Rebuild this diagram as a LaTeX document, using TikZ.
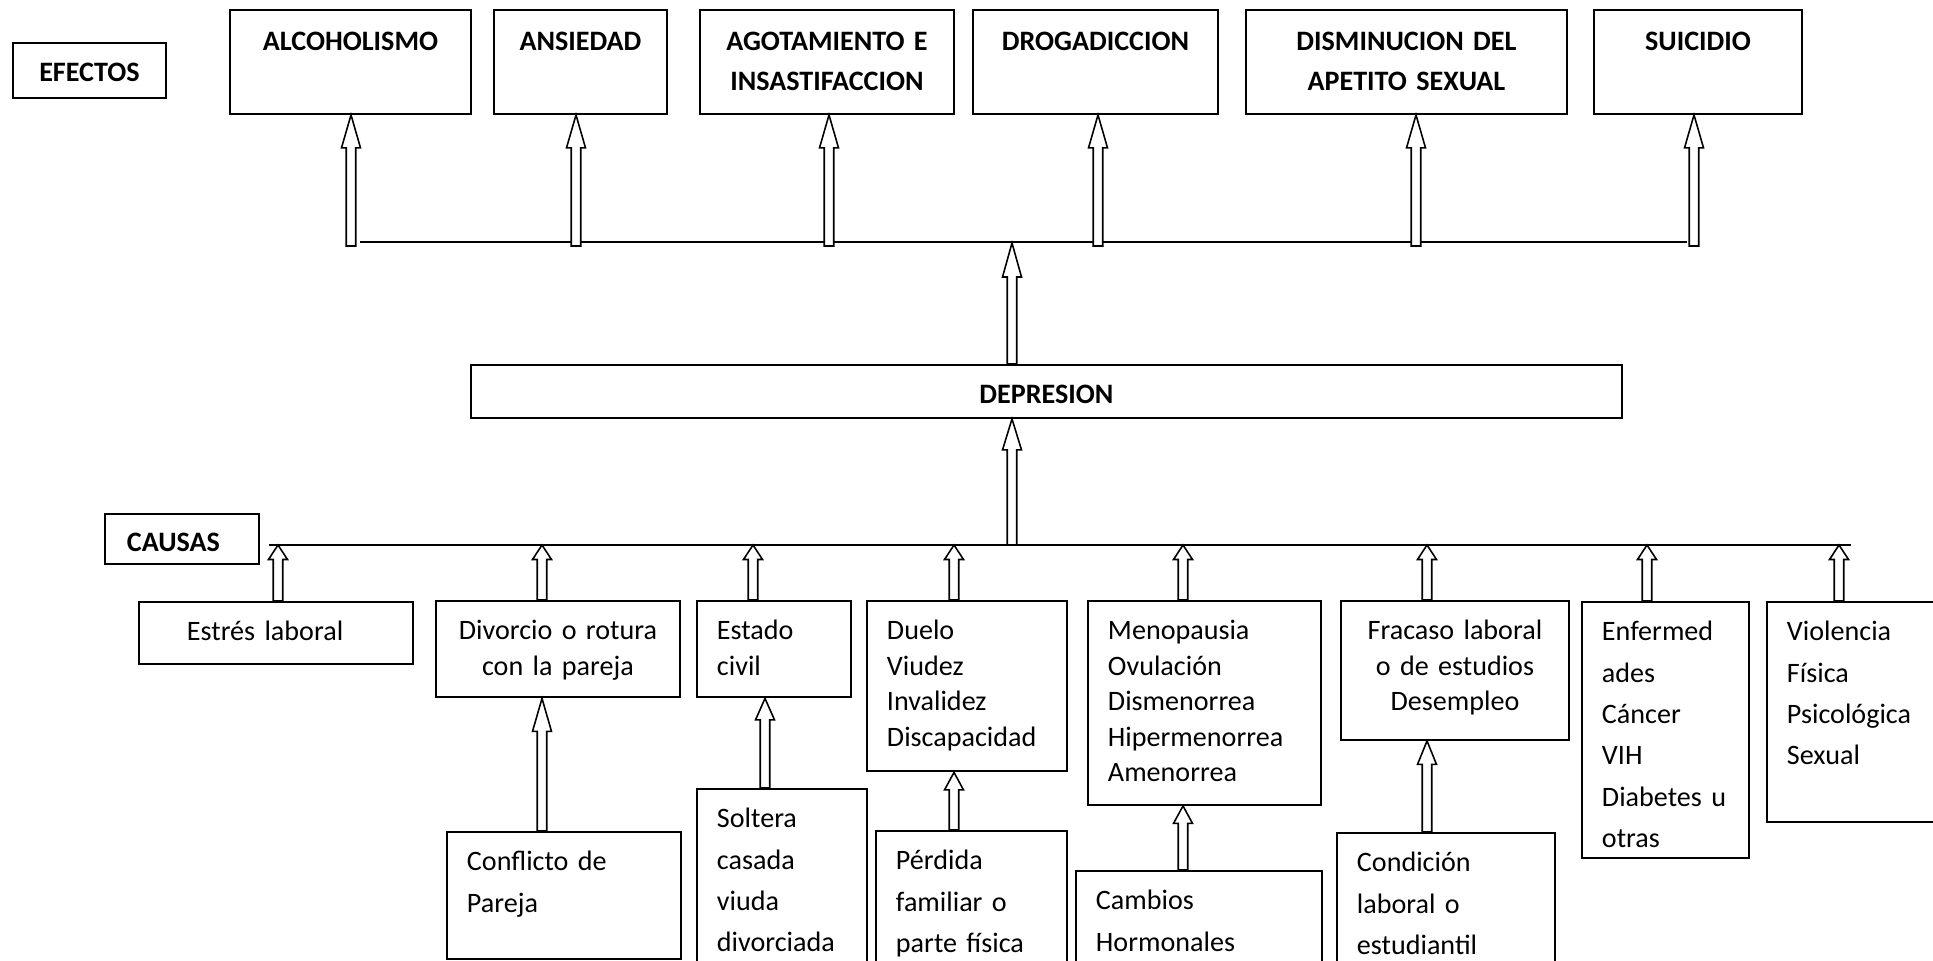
\documentclass[tikz,border=0pt]{standalone}
\usepackage{fontspec}
\setmainfont{Carlito}
\usepackage{tikz}
\usetikzlibrary{calc,positioning}
\hyphenpenalty=10000
\exhyphenpenalty=10000

\begin{document}
\begin{tikzpicture}[
    x=0.02cm,
    y=-0.02cm,
    font=\fontsize{16}{23.5}\selectfont,
    caja/.style={
		rectangle,
		draw=black,
		line width=1.1pt,
		anchor=north west,
		inner xsep=0.4cm,
		inner ysep=0pt,
		text height=0.78cm,
		align=left,
		fill=white
	},
	centrada/.style={
		caja,
		inner xsep=0.1cm,
		align=center
	},
	titulo/.style={
		centrada,
		font=\bfseries\fontsize{16}{22.7}\selectfont
	},
	junta/.style={
		font=\fontsize{16}{20.2}\selectfont
	},
	linea/.style={
		line width=1.1pt
	},
	flecha/.style={
		draw=black,
		fill=white,
		line width=0.9pt,
		to path={let \p1=(\tikztostart), \p2=(\tikztotarget) in
		  (\x1-0.095cm,\y1) -- (\x1-0.095cm,\y2-#1) -- (\x1-0.19cm,\y2-#1) -- (\x1,\y2)
		  -- (\x1+0.19cm,\y2-#1) -- (\x1+0.095cm,\y2-#1) -- (\x1+0.095cm,\y1) -- cycle}
	},
	flecha/.default=0.66cm
  ]

\useasboundingbox [fill=white] (0,0) rectangle (1933,960);

% // Efectos
 \node [titulo, text width=2.86cm, text depth=0.32cm] (efectos) at (12,42) {EFECTOS};
 \node [titulo, text width=4.62cm, text height=0.82cm, text depth=1.26cm] (alcoholismo) at (229,9) {ALCOHOLISMO};
 \node [titulo, text width=3.26cm, text height=0.82cm, text depth=1.26cm] (ansiedad) at (493,9) {ANSIEDAD};
 \node [titulo, text width=4.88cm, text height=0.82cm, text depth=1.26cm] (agotamiento) at (699,9)
 {AGOTAMIENTO E\\INSASTIFACCION};
 \node [titulo, text width=4.7cm, text height=0.82cm, text depth=1.26cm] (drogadiccion) at (972,9) {DROGADICCION};
 \node [titulo, text width=6.22cm, text height=0.82cm, text depth=1.26cm] (disminucion) at (1245,9)
 {DISMINUCION DEL\\APETITO SEXUAL};
 \node [titulo, text width=3.96cm, text height=0.82cm, text depth=1.26cm] (suicidio) at (1593,9) {SUICIDIO};

% // Depresion
 \node [titulo, text width=22.82cm, text depth=0.28cm] (depresion) at (470,364) {DEPRESION};

% // Causas
 \node [titulo, align=left, inner xsep=0.44cm, text width=2.2cm, text height=0.76cm, text depth=0.24cm] (causas) at (104,513) {CAUSAS};
 \node [caja, inner xsep=0.96cm, text width=3.57cm, text depth=0.46cm] (estres) at (138,601) {Estrés laboral};
 \node [centrada, junta, text width=4.68cm, text depth=1.15cm] (divorcio) at (435,600)
 {Divorcio o rotura\\con la pareja};
 \node [caja, junta, text width=2.29cm, text depth=1.15cm] (estado) at (696,600) {Estado\\civil};
 \node [caja, junta, text width=3.2cm, text depth=2.63cm] (duelo) at (866,600)
 {Duelo\\Viudez\\Invalidez\\Discapacidad};
 \node [caja, junta, text width=3.87cm, text depth=3.3cm] (menopausia) at (1087,600)
 {Menopausia\\Ovulación\\Dismenorrea\\Hipermenorrea\\Amenorrea};
 \node [centrada, junta, text width=4.36cm, text depth=2.0cm] (fracaso) at (1340,600)
 {Fracaso laboral\\o de estudios\\Desempleo};
 \node [caja, text width=2.55cm, text depth=4.34cm] (enfermedades) at (1581,601)
 {Enfermed\\ades\\Cáncer\\VIH\\Diabetes~u\\otras};
 \node [caja, text width=3.08cm, text depth=3.62cm] (violencia) at (1766,601)
 {Violencia\\Física\\Psicológica\\Sexual};

% // Subcausas
 \node [caja, text width=3.88cm, text depth=1.77cm] (conflicto) at (446,831) {Conflicto de\\Pareja};
 \node [caja, text width=2.61cm, text depth=3.05cm] (soltera) at (696,788)
 {Soltera\\casada\\viuda\\divorciada};
 \node [caja, text width=3.03cm, text depth=2.22cm] (perdida) at (875,830)
 {Pérdida\\familiar o\\parte física};
 \node [caja, text width=4.12cm, text depth=1.42cm] (cambios) at (1075,870) {Cambios\\Hormonales};
 \node [caja, text width=3.56cm, text depth=2.18cm] (condicion) at (1336,832)
 {Condición\\laboral o\\estudiantil};

% // Lineas
 \coordinate (efizq) at (360,242);
 \coordinate (efder) at (1687,242);
 \coordinate (caizq) at (269,545);
 \coordinate (cader) at (1851,545);
 \draw [linea] (efizq) -- (efder);
 \draw [linea] (caizq) -- (cader);

% // Flechas de efectos
 \coordinate (ef1) at (351,246);
 \coordinate (ef2) at (576,246);
 \coordinate (ef3) at (829,246);
 \coordinate (ef4) at (1098,246);
 \coordinate (ef5) at (1416,246);
 \coordinate (ef6) at (1694,246);
 \draw [flecha] (ef1) to (ef1 |- alcoholismo.south);
 \draw [flecha] (ef2) to (ef2 |- ansiedad.south);
 \draw [flecha] (ef3) to (ef3 |- agotamiento.south);
 \draw [flecha] (ef4) to (ef4 |- drogadiccion.south);
 \draw [flecha] (ef5) to (ef5 |- disminucion.south);
 \draw [flecha] (ef6) to (ef6 |- suicidio.south);

% // Flechas de depresion
 \coordinate (dep1) at (1012,243);
 \coordinate (dep2) at (1012,545);
 \draw [flecha=0.68cm] (dep1 |- depresion.north) to (dep1);
 \draw [flecha=0.62cm] (dep2) to (dep2 |- depresion.south);

% // Flechas de causas
 \coordinate (c1) at (278,545);
 \coordinate (c2) at (542,545);
 \coordinate (c3) at (753,545);
 \coordinate (c4) at (954,545);
 \coordinate (c5) at (1183,545);
 \coordinate (c6) at (1427,545);
 \coordinate (c7) at (1647,545);
 \coordinate (c8) at (1839,545);
 \draw [flecha=0.29cm] (c1 |- estres.north) to (c1);
 \draw [flecha=0.29cm] (c2 |- divorcio.north) to (c2);
 \draw [flecha=0.29cm] (c3 |- estado.north) to (c3);
 \draw [flecha=0.29cm] (c4 |- duelo.north) to (c4);
 \draw [flecha=0.29cm] (c5 |- menopausia.north) to (c5);
 \draw [flecha=0.29cm] (c6 |- fracaso.north) to (c6);
 \draw [flecha=0.29cm] (c7 |- enfermedades.north) to (c7);
 \draw [flecha=0.29cm] (c8 |- violencia.north) to (c8);

% // Flechas de subcausas
 \coordinate (s2) at (765,700);
 \draw [flecha] (c2 |- conflicto.north) to (c2 |- divorcio.south);
 \draw [flecha=0.43cm] (s2 |- soltera.north) to (s2 |- estado.south);
 \draw [flecha=0.35cm] (c4 |- perdida.north) to (c4 |- duelo.south);
 \draw [flecha=0.35cm] (c5 |- cambios.north) to (c5 |- menopausia.south);
 \draw [flecha=0.47cm] (c6 |- condicion.north) to (c6 |- fracaso.south);

\end{tikzpicture}
\end{document}
